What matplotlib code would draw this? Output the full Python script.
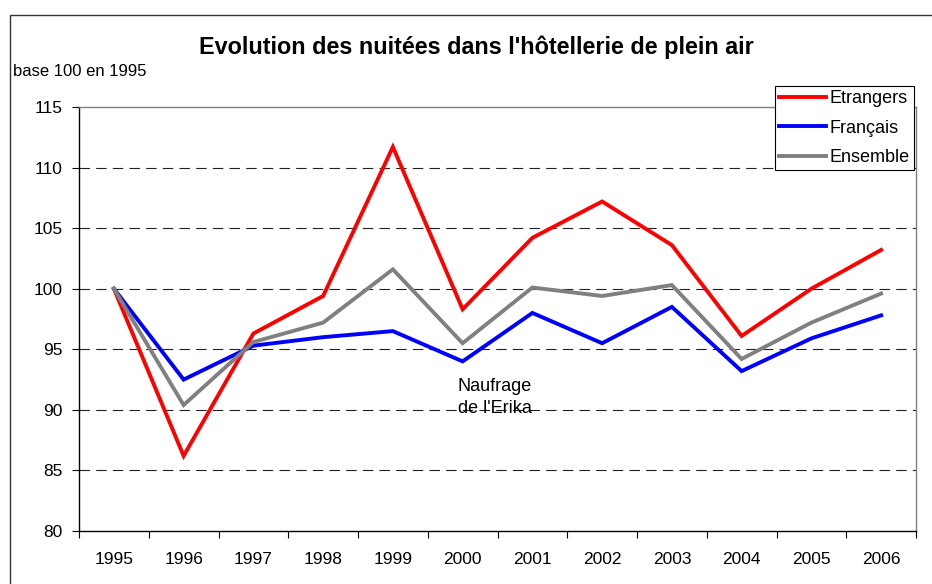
import matplotlib
matplotlib.use("Agg")
import matplotlib.pyplot as plt
from matplotlib.patches import Rectangle

years = ["1995", "1996", "1997", "1998", "1999", "2000", "2001", "2002", "2003", "2004", "2005", "2006"]
etrangers = [100, 86.2, 96.3, 99.4, 111.7, 98.3, 104.2, 107.2, 103.6, 96.1, 100.0, 103.2]
francais = [100, 92.5, 95.3, 96.0, 96.5, 94.0, 98.0, 95.5, 98.5, 93.2, 95.9, 97.8]
ensemble = [100, 90.4, 95.6, 97.2, 101.6, 95.5, 100.1, 99.4, 100.3, 94.2, 97.2, 99.6]
yticks = [80, 85, 90, 95, 100, 105, 110, 115]

plt.rcParams['font.family'] = ['Liberation Sans', 'DejaVu Sans']

fig = plt.figure(figsize=(9.32, 5.84), dpi=100)
ax = fig.add_axes([79/932, 1-531/584, (916-79)/932, (531-107)/584])

x = list(range(len(years)))
ax.plot(x, etrangers, color='#FF0000', lw=2.8, label='Etrangers', solid_joinstyle='miter')
ax.plot(x, francais, color='#0000FF', lw=2.8, label='Français', solid_joinstyle='miter')
ax.plot(x, ensemble, color='#808080', lw=2.8, label='Ensemble', solid_joinstyle='miter')

ax.set_xlim(-0.5, len(years) - 0.5)
ax.set_ylim(80, 115)
ax.set_yticks(yticks)
ax.set_yticklabels([str(v) for v in yticks], fontsize=12.5)
for v in yticks[1:-1]:
    ax.axhline(v, color='#222222', lw=0.8, ls=(0, (9.4, 5.6)), zorder=0)

ax.set_xticks(x)
ax.set_xticklabels(years, fontsize=12.5)
ax.set_xticks([i - 0.5 for i in range(len(years) + 1)], minor=True)
ax.tick_params(axis='x', which='major', length=0, pad=15)
ax.tick_params(axis='x', which='minor', length=5, width=0.8, direction='out')
ax.tick_params(axis='y', length=5, width=0.8, direction='out', pad=7)

ax.spines['left'].set_color('black')
ax.spines['bottom'].set_color('black')
ax.spines['top'].set_color('#808080')
ax.spines['right'].set_color('#808080')
for s in ax.spines.values():
    s.set_linewidth(1.0)

ax.text(5.46, 91.0, "Naufrage\nde l'Erika", ha='center', va='center', fontsize=13, linespacing=1.35)

leg = fig.legend(loc='upper right', bbox_to_anchor=(914/932, 1-86/584), fontsize=13,
                 frameon=True, fancybox=False, edgecolor='black', framealpha=1,
                 handlelength=2.6, handletextpad=0.22, borderpad=0.22, borderaxespad=0,
                 labelspacing=0.7)
leg.get_frame().set_linewidth(0.8)

fig.text(476/932, 1-47/584, "Evolution des nuitées dans l'hôtellerie de plein air",
         ha='center', va='center', fontsize=16.8, fontweight='bold')
fig.text(13/932, 1-72/584, "base 100 en 1995", ha='left', va='center', fontsize=12)

fig.patches.append(Rectangle((10/932, -0.1), 1.2, 1.1 - 15/584, transform=fig.transFigure,
                             fill=False, edgecolor='#333333', lw=1.0, zorder=-1))

fig.savefig('out.png', dpi=100)
